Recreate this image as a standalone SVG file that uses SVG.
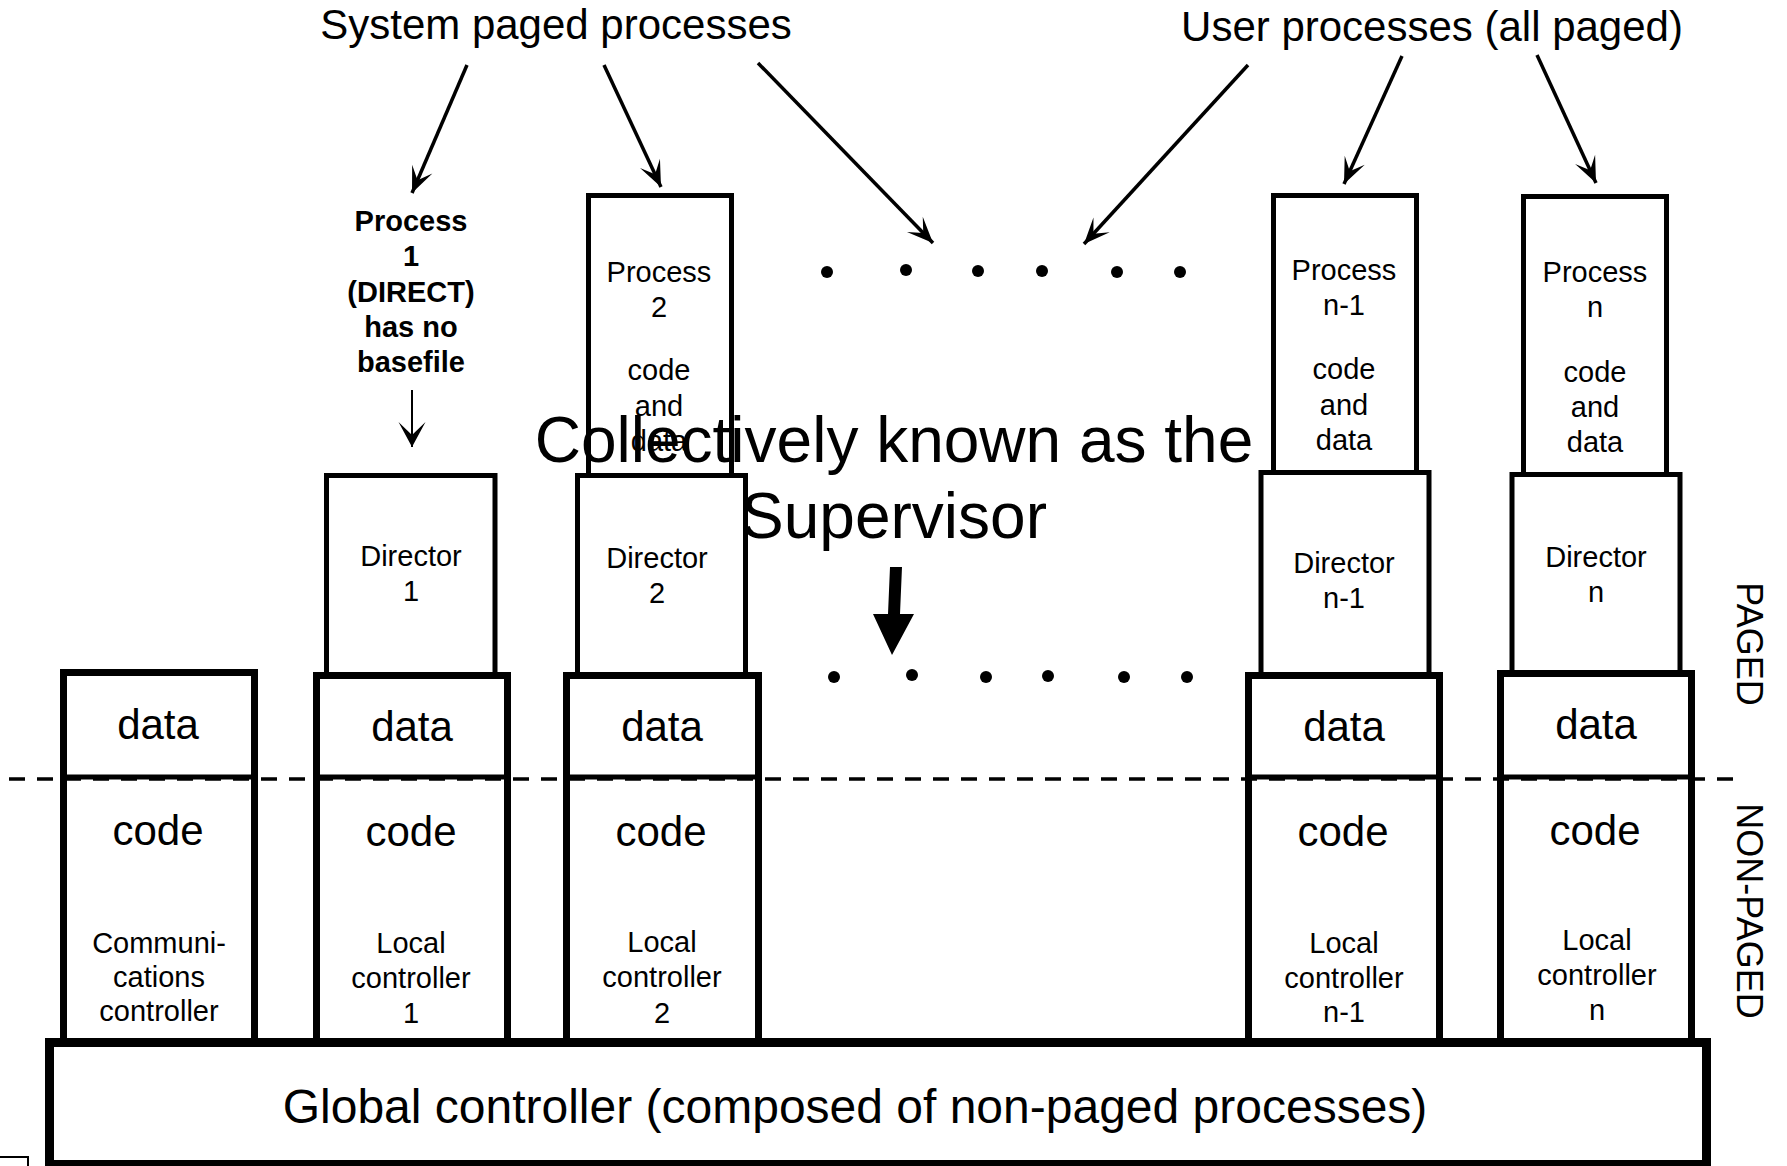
<svg xmlns="http://www.w3.org/2000/svg" width="1787" height="1166" viewBox="0 0 1787 1166">
<defs>
<style>
text{font-family:"Liberation Sans",Arial,sans-serif;fill:#000;text-anchor:middle}
.box{fill:#fff;stroke:#000;stroke-width:5}
.low{fill:#fff;stroke:#000;stroke-width:7}
.div{stroke:#000;stroke-width:5}
.t29{font-size:29px}
.t42{font-size:42px}
.b29{font-size:29px;font-weight:bold}
.conn{stroke:#000;stroke-width:3.5;fill:none;marker-end:url(#ah)}
.dot{fill:#000}
</style>
<marker id="ah" markerUnits="userSpaceOnUse" viewBox="-27 -13 28 26" refX="0" refY="0" markerWidth="28" markerHeight="26" orient="auto">
<path d="M0,0 L-26,-11 L-14,0 L-26,11 Z" fill="#000"/>
</marker>
<marker id="ahs" markerUnits="userSpaceOnUse" viewBox="-27 -15 28 30" refX="0" refY="0" markerWidth="28" markerHeight="30" orient="auto">
<path d="M0,0 L-25,-13.5 L-12,0 L-25,13.5 Z" fill="#000"/>
</marker>
</defs>
<rect width="1787" height="1166" fill="#fff"/>

<g id="label-system">
<text x="556" y="39" style="font-size:42px">System paged processes</text>
</g>
<g id="label-user">
<text x="1432" y="41" style="font-size:42px">User processes (all paged)</text>
</g>

<g id="process2">
<rect class="box" x="588.5" y="195.5" width="143" height="280"/>
<text class="t29" x="659" y="282">Process</text>
<text class="t29" x="659" y="317">2</text>
<text class="t29" x="659" y="380">code</text>
<text class="t29" x="659" y="416">and</text>
<text class="t29" x="659" y="451">data</text>
</g>
<g id="process-n1">
<rect class="box" x="1273.5" y="195.5" width="143" height="277"/>
<text class="t29" x="1344" y="280">Process</text>
<text class="t29" x="1344" y="315">n-1</text>
<text class="t29" x="1344" y="379">code</text>
<text class="t29" x="1344" y="415">and</text>
<text class="t29" x="1344" y="450">data</text>
</g>
<g id="process-n">
<rect class="box" x="1523.5" y="196.5" width="143" height="278"/>
<text class="t29" x="1595" y="282">Process</text>
<text class="t29" x="1595" y="317">n</text>
<text class="t29" x="1595" y="382">code</text>
<text class="t29" x="1595" y="417">and</text>
<text class="t29" x="1595" y="452">data</text>
</g>

<g id="process1-label">
<text class="b29" x="411" y="231">Process</text>
<text class="b29" x="411" y="266">1</text>
<text class="b29" x="411" y="302">(DIRECT)</text>
<text class="b29" x="411" y="337">has no</text>
<text class="b29" x="411" y="372">basefile</text>
</g>

<g id="director1">
<rect class="box" x="326.5" y="475.5" width="168.5" height="200"/>
<text class="t29" x="411" y="566">Director</text>
<text class="t29" x="411" y="601">1</text>
</g>
<g id="director2">
<rect class="box" x="577.5" y="475.5" width="168" height="200"/>
<text class="t29" x="657" y="568">Director</text>
<text class="t29" x="657" y="603">2</text>
</g>
<g id="director-n1">
<rect class="box" x="1261" y="472.5" width="168" height="203"/>
<text class="t29" x="1344" y="573">Director</text>
<text class="t29" x="1344" y="608">n-1</text>
</g>
<g id="director-n">
<rect class="box" x="1512" y="474.5" width="168" height="200"/>
<text class="t29" x="1596" y="567">Director</text>
<text class="t29" x="1596" y="602">n</text>
</g>

<g id="comm">
<rect class="low" x="63.5" y="672.5" width="191" height="370"/>
<line class="div" x1="63.5" y1="777" x2="254.5" y2="777"/>
<text class="t42" x="158" y="739">data</text>
<text class="t42" x="158" y="845">code</text>
<text class="t29" x="159" y="953">Communi-</text>
<text class="t29" x="159" y="987">cations</text>
<text class="t29" x="159" y="1021">controller</text>
</g>
<g id="local1">
<rect class="low" x="316.5" y="675.5" width="191" height="367"/>
<line class="div" x1="316.5" y1="777" x2="507.5" y2="777"/>
<text class="t42" x="412" y="741">data</text>
<text class="t42" x="411" y="846">code</text>
<text class="t29" x="411" y="953">Local</text>
<text class="t29" x="411" y="988">controller</text>
<text class="t29" x="411" y="1023">1</text>
</g>
<g id="local2">
<rect class="low" x="566.5" y="675.5" width="192" height="367"/>
<line class="div" x1="566.5" y1="777" x2="758.5" y2="777"/>
<text class="t42" x="662" y="741">data</text>
<text class="t42" x="661" y="846">code</text>
<text class="t29" x="662" y="952">Local</text>
<text class="t29" x="662" y="987">controller</text>
<text class="t29" x="662" y="1023">2</text>
</g>
<g id="local-n1">
<rect class="low" x="1248.5" y="675.5" width="191" height="367"/>
<line class="div" x1="1248.5" y1="777" x2="1439.5" y2="777"/>
<text class="t42" x="1344" y="741">data</text>
<text class="t42" x="1343" y="846">code</text>
<text class="t29" x="1344" y="953">Local</text>
<text class="t29" x="1344" y="988">controller</text>
<text class="t29" x="1344" y="1022">n-1</text>
</g>
<g id="local-n">
<rect class="low" x="1500.5" y="673.5" width="191" height="369"/>
<line class="div" x1="1500.5" y1="777" x2="1691.5" y2="777"/>
<text class="t42" x="1596" y="739">data</text>
<text class="t42" x="1595" y="845">code</text>
<text class="t29" x="1597" y="950">Local</text>
<text class="t29" x="1597" y="985">controller</text>
<text class="t29" x="1597" y="1020">n</text>
</g>

<g id="global">
<rect x="49.5" y="1042.5" width="1657" height="122" fill="#fff" stroke="#000" stroke-width="9"/>
<text x="855" y="1123" style="font-size:48px">Global controller (composed of non-paged processes)</text>
</g>

<g id="paged-boundary">
<line x1="9" y1="779" x2="1733" y2="779" stroke="#000" stroke-width="3.5" stroke-dasharray="16 12"/>
<text transform="translate(1737,644) rotate(90)" style="font-size:36px">PAGED</text>
<text transform="translate(1737,911) rotate(90)" style="font-size:36px">NON-PAGED</text>
</g>

<g id="ellipsis-top">
<circle class="dot" cx="827" cy="272" r="6"/>
<circle class="dot" cx="906" cy="270" r="6"/>
<circle class="dot" cx="978" cy="271" r="6"/>
<circle class="dot" cx="1042" cy="271" r="6"/>
<circle class="dot" cx="1117" cy="272" r="6"/>
<circle class="dot" cx="1180" cy="272" r="6"/>
</g>
<g id="ellipsis-bottom">
<circle class="dot" cx="834" cy="677" r="6"/>
<circle class="dot" cx="912" cy="675" r="6"/>
<circle class="dot" cx="986" cy="677" r="6"/>
<circle class="dot" cx="1048" cy="676" r="6"/>
<circle class="dot" cx="1124" cy="677" r="6"/>
<circle class="dot" cx="1187" cy="677" r="6"/>
</g>

<g id="supervisor">
<text x="894" y="462" style="font-size:64px">Collectively known as the</text>
<text x="894" y="538" style="font-size:64px">Supervisor</text>
<polygon points="890,567 902,567 900,614 914,614 892,655 873,614 888,614" fill="#000"/>
</g>

<g id="connectors">
<line class="conn" x1="467" y1="65" x2="412" y2="193"/>
<line class="conn" x1="604" y1="65" x2="661" y2="187"/>
<line class="conn" x1="758" y1="63" x2="933" y2="243"/>
<line class="conn" x1="1248" y1="65" x2="1084" y2="244"/>
<line class="conn" x1="1402" y1="56" x2="1344" y2="184"/>
<line class="conn" x1="1537" y1="55" x2="1596" y2="183"/>
<line x1="412" y1="390" x2="412" y2="447" stroke="#000" stroke-width="2" marker-end="url(#ahs)"/>
</g>

<g id="corner-fragment">
<path d="M0,1157 H28 V1166" fill="none" stroke="#000" stroke-width="2"/>
</g>
</svg>
